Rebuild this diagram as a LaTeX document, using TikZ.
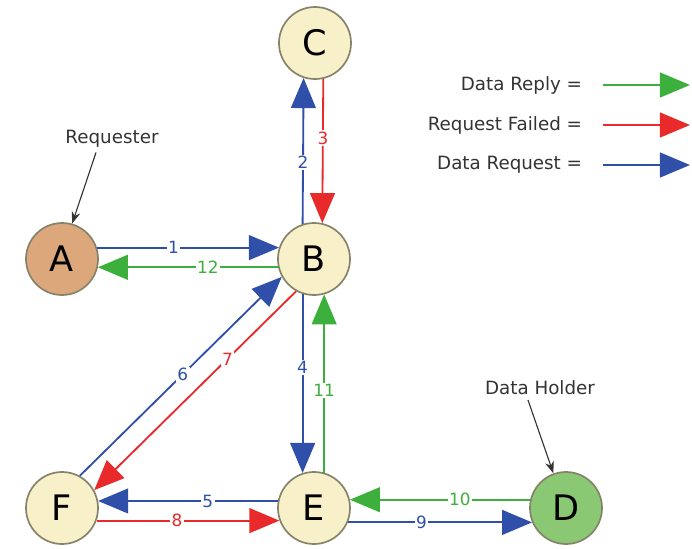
\documentclass[tikz,border=0pt]{standalone}
\usepackage{fontspec}
\setmainfont{DejaVu Sans}
\usetikzlibrary{arrows.meta}
\definecolor{cream}{HTML}{F8F0C8}
\definecolor{tan}{HTML}{DDA77C}
\definecolor{holder}{HTML}{8AC874}
\definecolor{rim}{HTML}{85836A}
\definecolor{reqblue}{HTML}{2F4FA8}
\definecolor{failred}{HTML}{E82A2A}
\definecolor{replygreen}{HTML}{3DAF3D}

\begin{document}
\begin{tikzpicture}[x=0.025cm,y=-0.025cm]
	\tikzset{peer/.style={circle,draw=rim,line width=1.2pt,fill=cream,minimum size=1.8cm,inner sep=0pt,font=\fontsize{25}{27}\selectfont}};
	\tikzset{msg/.style={-{Triangle[length=0.75cm,width=0.62cm]},line width=1.3pt,#1}};
	\tikzset{num/.style={fill=white,inner sep=1pt,font=\fontsize{12}{14}\selectfont}};
	\tikzset{note/.style={-{Stealth[length=0.3cm,width=0.22cm]},line width=0.8pt,black!80}};
	\useasboundingbox (0,0) rectangle (692,548);
	\node[peer,fill=tan] (A) at (62,259) {A};
	\node[peer] (B) at (314,259) {B};
	\node[peer] (C) at (315,43) {C};
	\node[peer] (F) at (62,508) {F};
	\node[peer] (E) at (314,508) {E};
	\node[peer,fill=holder] (D) at (566,508) {D};
	\draw[msg=reqblue] (A.18) -- node[num,pos=0.42] {1} (B.162);
	\draw[msg=reqblue] (B.108) -- node[num,pos=0.42] {2} (C.252);
	\draw[msg=failred] (C.283) -- node[num,pos=0.41] {3} (B.77);
	\draw[msg=reqblue] (B.252) -- node[num,pos=0.41] {4} (E.108);
	\draw[msg=reqblue] (E.169) -- node[num,pos=0.39] {5} (F.11);
	\draw[msg=reqblue] (F.61) -- node[num,pos=0.51] {6} (B.209);
	\draw[msg=failred] (B.241) -- node[num,pos=0.34] {7} (F.29);
	\draw[msg=failred] (F.-20) -- node[num,pos=0.44] {8} (E.200);
	\draw[msg=reqblue] (E.-23) -- node[num,pos=0.4] {9} (D.203);
	\draw[msg=replygreen] (D.167) -- node[num,pos=0.39] {10} (E.13);
	\draw[msg=replygreen] (E.74) -- node[num,pos=0.46] {11} (B.286);
	\draw[msg=replygreen] (B.193) -- node[num,pos=0.39] {12} (A.-13);
	\node[font=\fontsize{13}{15}\selectfont,text=black!80] (req) at (112,139) {Requester};
	\draw[note] ([xshift=-0.4cm]req.south) -- (A.74);
	\node[font=\fontsize{13}{15}\selectfont,text=black!80] (hold) at (540,388) {Data Holder};
	\draw[note] ([xshift=-0.3cm]hold.south) -- (D.110);
	\node[anchor=east,font=\fontsize{13}{15}\selectfont,text=black!80] (lreply) at (587,85) {Data Reply =};
	\node[anchor=east,font=\fontsize{13}{15}\selectfont,text=black!80] (lfail) at (587,125) {Request Failed =};
	\node[anchor=east,font=\fontsize{13}{15}\selectfont,text=black!80] (lreq) at (587,165) {Data Request =};
	\coordinate (kreply) at (690,85);
	\coordinate (kfail) at (690,125);
	\coordinate (kreq) at (690,165);
	\draw[msg=replygreen] ([xshift=0.4cm]lreply.east) -- (kreply);
	\draw[msg=failred] ([xshift=0.4cm]lfail.east) -- (kfail);
	\draw[msg=reqblue] ([xshift=0.4cm]lreq.east) -- (kreq);
\end{tikzpicture}
\end{document}
